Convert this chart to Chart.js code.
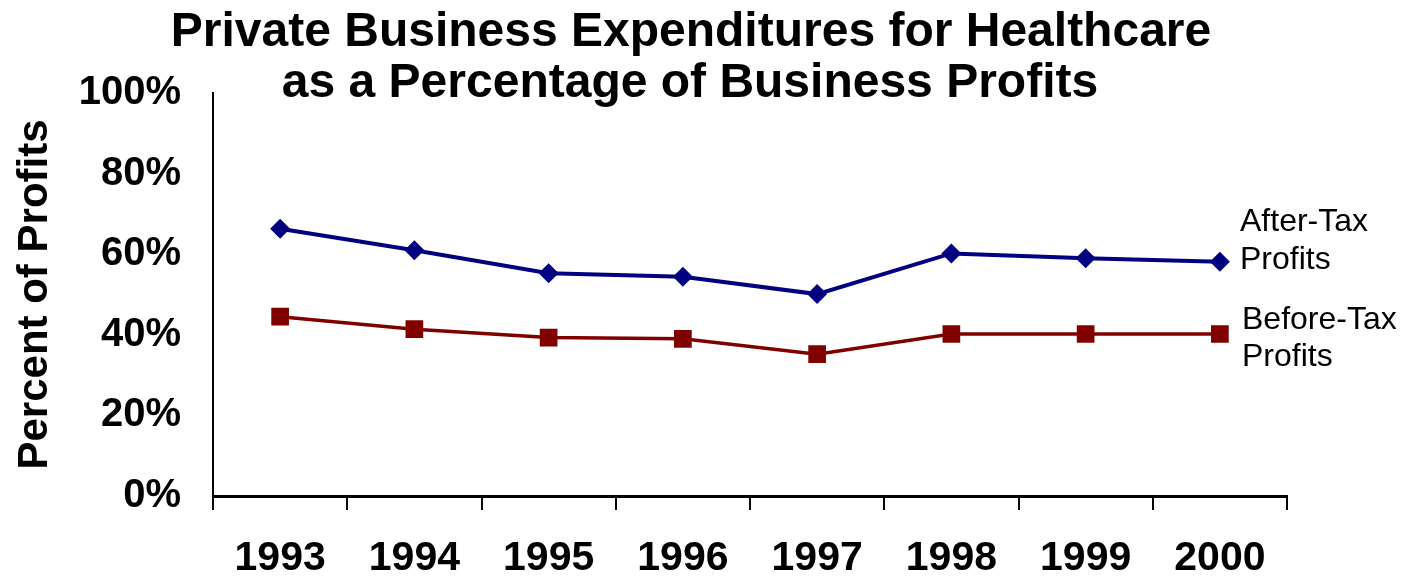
<!DOCTYPE html>
<html>
<head>
<meta charset="utf-8">
<script src="https://cdn.jsdelivr.net/npm/chart.js@4/dist/chart.umd.min.js"></script>
<style>
  body { margin: 0; background: #fff; }
  #wrap { width: 1408px; height: 576px; position: relative; }
</style>
</head>
<body>
<div id="wrap"><canvas id="chart"></canvas></div>
<script>
const years = ["1993", "1994", "1995", "1996", "1997", "1998", "1999", "2000"];
const afterTax = [66.3, 61.0, 55.3, 54.4, 50.1, 60.2, 59.0, 58.1];
const beforeTax = [44.5, 41.4, 39.3, 39.0, 35.2, 40.2, 40.2, 40.2];
const titleLines = ["Private Business Expenditures for Healthcare", "as a Percentage of Business Profits"];
const seriesNotes = [["After-Tax", "Profits"], ["Before-Tax", "Profits"]];

const FONT = "'Liberation Sans', Arial, Helvetica, sans-serif";

// title and the right-hand series notes
const textPlugin = {
  id: "texts",
  afterDraw(c) {
    const ctx = c.ctx;
    ctx.save();
    ctx.fillStyle = "#000";
    ctx.textAlign = "center";
    ctx.textBaseline = "alphabetic";
    ctx.font = "bold 48px " + FONT;
    ctx.fillText(titleLines[0], 691, 46);
    ctx.fillText(titleLines[1], 690, 97);

    ctx.textAlign = "left";
    ctx.textBaseline = "middle";
    ctx.font = "32px " + FONT;
    ctx.fillText(seriesNotes[0][0], 1240, 222);
    ctx.fillText(seriesNotes[0][1], 1240, 260);
    ctx.fillText(seriesNotes[1][0], 1242, 320);
    ctx.fillText(seriesNotes[1][1], 1242, 357);
    ctx.restore();
  }
};

new Chart(document.getElementById("chart"), {
  type: "line",
  data: {
    labels: years,
    datasets: [
      {
        label: "After-Tax Profits",
        data: afterTax,
        borderColor: "#000080",
        backgroundColor: "#000080",
        borderWidth: 4,
        pointStyle: "rectRot",
        pointRadius: 10,
        pointBorderWidth: 0,
        tension: 0
      },
      {
        label: "Before-Tax Profits",
        data: beforeTax,
        borderColor: "#800000",
        backgroundColor: "#800000",
        borderWidth: 3.5,
        pointStyle: "rect",
        pointRadius: 12.5,
        pointBorderWidth: 0,
        tension: 0
      }
    ]
  },
  options: {
    responsive: true,
    maintainAspectRatio: false,
    animation: false,
    layout: { padding: { top: 93, right: 121, left: 0, bottom: 0 } },
    plugins: {
      legend: { display: false },
      title: { display: false },
      tooltip: { enabled: false }
    },
    scales: {
      x: {
        offset: true,
        grid: {
          offset: true,
          drawOnChartArea: false,
          drawTicks: true,
          tickLength: 14,
          color: "#000",
          lineWidth: 2
        },
        border: { display: true, color: "#000", width: 3 },
        ticks: {
          color: "#000",
          font: { family: FONT, size: 41, weight: "bold" },
          padding: 24,
          maxRotation: 0,
          autoSkip: false
        },
        afterFit(s) { s.height = 80; }
      },
      y: {
        min: 0,
        max: 100,
        grid: { display: false, drawTicks: false },
        border: { display: true, color: "#000", width: 2 },
        ticks: {
          stepSize: 20,
          color: "#000",
          padding: 32,
          font: { family: FONT, size: 40, weight: "bold" },
          callback: v => v + "%"
        },
        title: {
          display: true,
          text: "Percent of Profits",
          color: "#000",
          font: { family: FONT, size: 42, weight: "bold" },
          padding: { top: 10, bottom: 0 }
        },
        afterFit(s) { s.width = 213; }
      }
    }
  },
  plugins: [textPlugin]
});
</script>
</body>
</html>
